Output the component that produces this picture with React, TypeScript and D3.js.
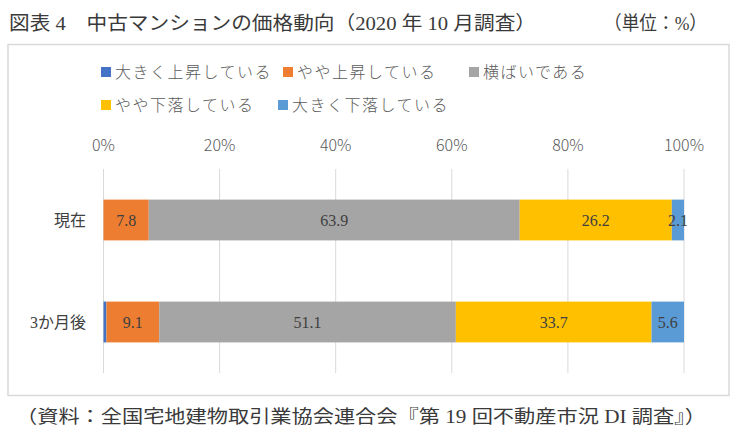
import React from "react";
import * as d3 from "d3";

const categories = ["現在", "3か月後"];
const seriesNames = ["大きく上昇している", "やや上昇している", "横ばいである", "やや下落している", "大きく下落している"];
const seriesColors = ["#4472C4", "#ED7D31", "#A5A5A5", "#FFC000", "#5B9BD5"];
const valuesUpBig = [0.0, 0.5];
const valuesUpLittle = [7.8, 9.1];
const valuesFlat = [63.9, 51.1];
const valuesDownLittle = [26.2, 33.7];
const valuesDownBig = [2.1, 5.6];
const tickValues = [0, 20, 40, 60, 80, 100];
const titleText = "図表 4　中古マンションの価格動向（2020 年 10 月調査）";
const unitText = "（単位：%）";
const sourceText = "（資料：全国宅地建物取引業協会連合会『第 19 回不動産市況 DI 調査』）";

const W = 735;
const H = 439;
const SERIF = "'Liberation Serif', 'DejaVu Serif', 'Noto Sans CJK JP', serif";
const SANS = "'Noto Sans CJK JP', 'Noto Sans', sans-serif";

export default function App() {
  const seriesValues = [valuesUpBig, valuesUpLittle, valuesFlat, valuesDownLittle, valuesDownBig];
  const rows = categories.map((c, i) => {
    const r: any = { cat: c };
    seriesNames.forEach((s, j) => (r[s] = seriesValues[j][i]));
    return r;
  });
  const stacked = d3.stack<any>().keys(seriesNames)(rows);

  const x = d3.scaleLinear().domain([0, 100]).range([103.5, 684]);
  const y = d3.scaleBand().domain(categories).range([169, 373]).paddingInner(0.6).paddingOuter(0.3);

  const legendPos = [
    { x: 101, y: 72 },
    { x: 283, y: 72 },
    { x: 469, y: 72 },
    { x: 101, y: 105 },
    { x: 278, y: 105 },
  ];

  return (
    <svg width={W} height={H} style={{ position: "absolute", left: 0, top: 0, background: "#fff" }}>
      <rect x={0} y={0} width={W} height={H} fill="#fff" />
      <text x={9} y={30} fontFamily={SERIF} fontSize={19} fill="#3a3a3a" textLength={527} lengthAdjust="spacingAndGlyphs">{titleText}</text>
      <text x={604} y={30} fontFamily={SERIF} fontSize={19} fill="#3a3a3a" textLength={103} lengthAdjust="spacingAndGlyphs">{unitText}</text>

      <rect x={8} y={44.5} width={721} height={351} fill="#fff" stroke="#d9d9d9" strokeWidth={1.5} />

      {seriesNames.map((s, i) => (
        <g key={s}>
          <rect x={legendPos[i].x} y={legendPos[i].y - 5} width={10} height={10} fill={seriesColors[i]} />
          <text x={legendPos[i].x + 14} y={legendPos[i].y} dy="0.35em" fontFamily={SANS} fontSize={16} fill="#595959" fontWeight={300} letterSpacing={1.5}>{s}</text>
        </g>
      ))}

      {tickValues.map((t) => (
        <g key={t}>
          <line x1={x(t)} x2={x(t)} y1={169} y2={373} stroke="#d9d9d9" strokeWidth={1} />
          <text x={x(t)} y={145} dy="0.35em" textAnchor="middle" fontFamily={SANS} fontSize={16} fill="#595959" fontWeight={300}>{`${t}%`}</text>
        </g>
      ))}

      {categories.map((c) => (
        <text key={c} x={86} y={(y(c) as number) + y.bandwidth() / 2} dy="0.35em" textAnchor="end" fontFamily={SERIF} fontSize={16} fill="#404040">{c}</text>
      ))}

      {stacked.map((layer, i) => (
        <g key={layer.key}>
          {layer.map((d, k) => {
            const w = x(d[1]) - x(d[0]);
            if (w <= 0) return null;
            return (
              <rect key={k} x={x(d[0])} y={y(categories[k]) as number} width={w} height={y.bandwidth()} fill={seriesColors[i]} />
            );
          })}
        </g>
      ))}
      {stacked.map((layer, i) => (
        <g key={"l" + layer.key}>
          {i === 0 ? null : layer.map((d, k) => (
            <text key={k} x={(x(d[0]) + x(d[1])) / 2} y={(y(categories[k]) as number) + y.bandwidth() / 2} dy="0.35em" textAnchor="middle" fontFamily={SERIF} fontSize={16} fill="#404040">
              {(d[1] - d[0]).toFixed(1)}
            </text>
          ))}
        </g>
      ))}

      <text x={16} y={423} fontFamily={SERIF} fontSize={18} fill="#3a3a3a" textLength={690} lengthAdjust="spacingAndGlyphs">{sourceText}</text>
    </svg>
  );
}
